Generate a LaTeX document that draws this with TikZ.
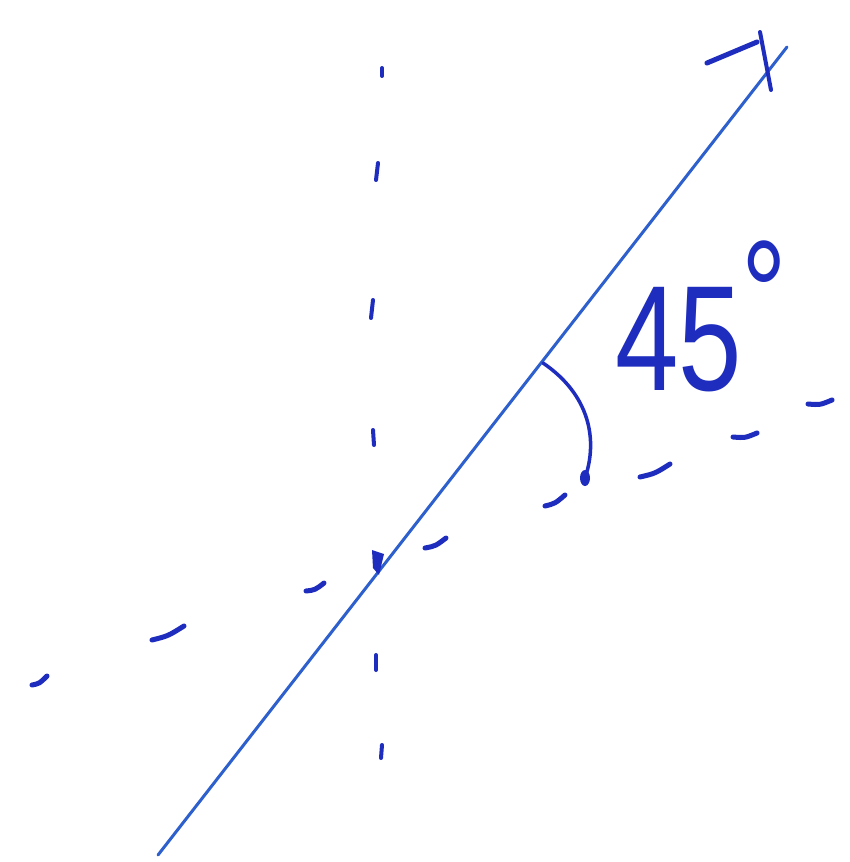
\documentclass[tikz,border=0pt]{standalone}
\usepackage{fontspec}
\setmainfont{Liberation Sans}
\begin{document}
\begin{tikzpicture}[x=1pt,y=-1pt,
  every path/.style={line cap=round,line join=round},
  solidline/.style={draw=lineblue,line width=3pt},
  dsh/.style={draw=penblue,line width=5pt},
  ink/.style={draw=penblue,line width=5pt},
  label/.style={text=penblue,font=\fontsize{150}{150}\selectfont,inner sep=0pt,xscale=0.76,anchor=base west}]
\definecolor{penblue}{RGB}{30,45,190}
\definecolor{lineblue}{RGB}{45,95,205}
\useasboundingbox (0,0) rectangle (850,862);
\fill[white] (0,0) rectangle (850,862);
% main solid line
\coordinate (s) at (158,855);
\coordinate (t) at (787,47);
\draw[solidline] (s) -- (t);
% hand-drawn arrow head
\draw[ink,line width=5pt] (707,63) -- (757,42);
\draw[ink,line width=4pt] (760,32) -- (771,90);
% vertical dashed line
\foreach \a/\b/\c/\d in {382/68/382/76, 378/163/376/180, 373/300/371/318, 373/430/374/445, 376/655/376/670, 382/745/381/758}
  \draw[dsh,line width=4pt] (\a,\b) -- (\c,\d);
% intersection marker
\coordinate (o) at (378,560);
\fill[penblue] (372,550) -- (384,554) -- (379,575) -- (373,568) -- cycle;
% oblique dashed line
\foreach \a/\b/\c/\d in {32/685/47/676, 152/640/184/626, 306/591/324/583, 425/548/446/538, 545/506/565/495, 640/477/670/464, 733/437/757/433, 808/404/832/400}
  \draw[dsh] (\a,\b) .. controls ({(\a+\c)/2},{(\b+\d)/2+3}) .. (\c,\d);
% angle arc
\draw[ink,line width=3.5pt] (543,363) .. controls (590,395) and (598,440) .. (585,478);
\fill[penblue] (585,478) ellipse (5 and 8);
% label
\node[label] (lab) at (615,390) {45\raisebox{45pt}{°}};
\end{tikzpicture}
\end{document}
